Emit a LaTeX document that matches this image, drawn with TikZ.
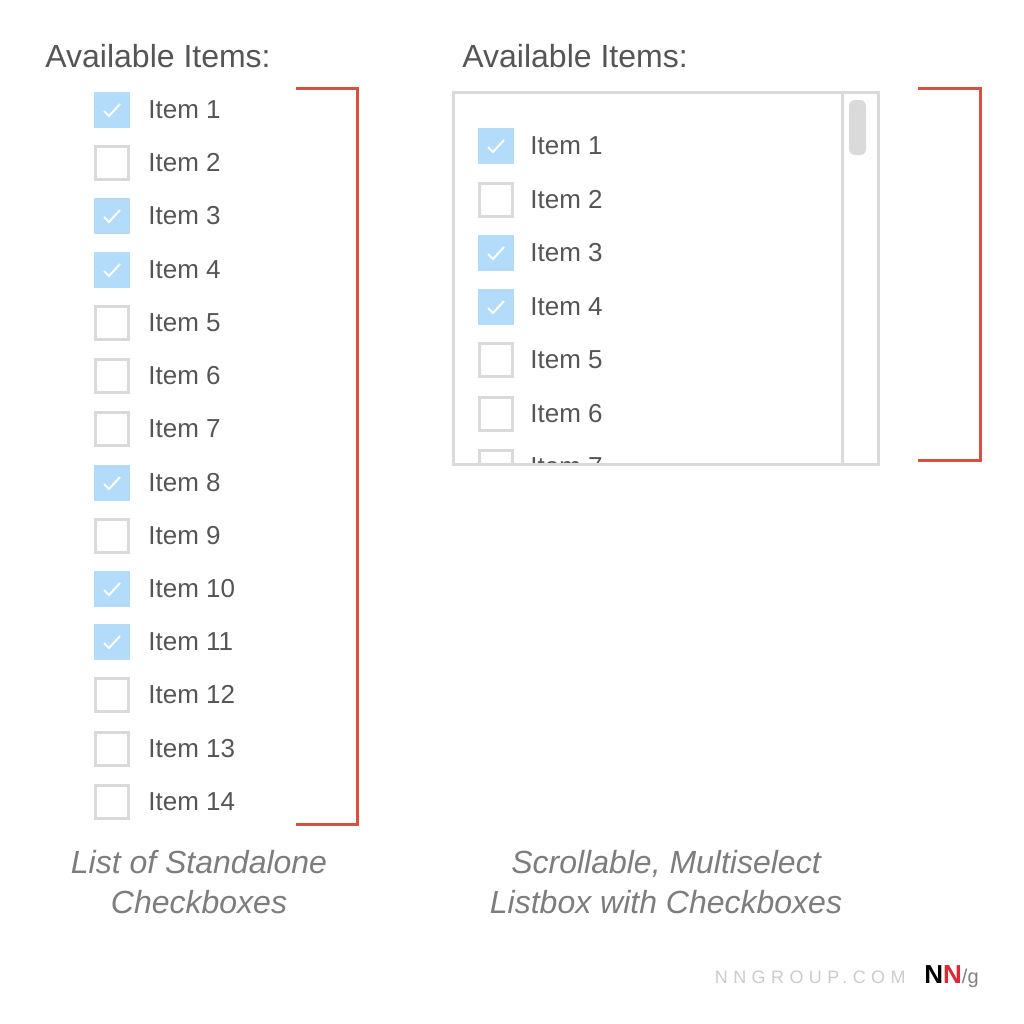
\documentclass[tikz,border=0pt]{standalone}
\usepackage{fontspec}
\setmainfont{Liberation Sans}
\newfontfamily\spacedfont[LetterSpace=30]{Liberation Sans}
\definecolor{boxblue}{RGB}{179,219,250}
\definecolor{boxgray}{RGB}{218,218,218}
\definecolor{brackred}{RGB}{217,80,62}
\definecolor{textgray}{RGB}{85,85,85}
\definecolor{capgray}{RGB}{125,125,125}
\definecolor{logored}{RGB}{220,40,50}
\tikzset{
  cbox/.style={draw=boxgray, line width=1.5pt, minimum size=16.5pt, inner sep=0pt},
  checked/.style={cbox, draw=boxblue, fill=boxblue,
    path picture={\draw [white, line width=1pt, shift={(path picture bounding box.center)}] (-8,1) -- (-3,6) -- (8,-6);}},
  itemtext/.style={anchor=west, inner sep=0pt, text=textgray, font=\fontsize{13}{15}\selectfont},
  header/.style={anchor=base west, inner sep=0pt, text=textgray, font=\fontsize{16}{19}\selectfont},
  captext/.style={align=center, inner sep=0pt, text=capgray, font=\fontsize{16}{20}\selectfont\itshape},
  bracket/.style={draw=brackred, line width=1.5pt},
}
\begin{document}
\begin{tikzpicture}[x=0.5pt, y=-0.5pt]
\fill [white] (0, 0) rectangle (1024, 1024);

% standalone checkboxes
\node [header] (lhead) at (45, 67) {Available Items:};

\node [checked] (l1) at (112, 110) {}; \node [itemtext] (lt1) at (148, 110) {Item 1};
\node [cbox] (l2) at (112, 163) {}; \node [itemtext] (lt2) at (148, 163) {Item 2};
\node [checked] (l3) at (112, 216) {}; \node [itemtext] (lt3) at (148, 216) {Item 3};
\node [checked] (l4) at (112, 270) {}; \node [itemtext] (lt4) at (148, 270) {Item 4};
\node [cbox] (l5) at (112, 323) {}; \node [itemtext] (lt5) at (148, 323) {Item 5};
\node [cbox] (l6) at (112, 376) {}; \node [itemtext] (lt6) at (148, 376) {Item 6};
\node [cbox] (l7) at (112, 429) {}; \node [itemtext] (lt7) at (148, 429) {Item 7};
\node [checked] (l8) at (112, 483) {}; \node [itemtext] (lt8) at (148, 483) {Item 8};
\node [cbox] (l9) at (112, 536) {}; \node [itemtext] (lt9) at (148, 536) {Item 9};
\node [checked] (l10) at (112, 589) {}; \node [itemtext] (lt10) at (148, 589) {Item 10};
\node [checked] (l11) at (112, 642) {}; \node [itemtext] (lt11) at (148, 642) {Item 11};
\node [cbox] (l12) at (112, 695) {}; \node [itemtext] (lt12) at (148, 695) {Item 12};
\node [cbox] (l13) at (112, 749) {}; \node [itemtext] (lt13) at (148, 749) {Item 13};
\node [cbox] (l14) at (112, 802) {}; \node [itemtext] (lt14) at (148, 802) {Item 14};

\draw [bracket] (296, 88) -- (357, 88) -- (357, 824) -- (296, 824);

\node [captext] (lcap) at (199, 882) {List of Standalone\\Checkboxes};

% listbox
\node [header] (rhead) at (462, 67) {Available Items:};

\begin{scope}
\clip (455, 94) rectangle (840, 463);
\node [checked] (r1) at (496, 146) {}; \node [itemtext] (rt1) at (530, 146) {Item 1};
\node [cbox] (r2) at (496, 200) {}; \node [itemtext] (rt2) at (530, 200) {Item 2};
\node [checked] (r3) at (496, 253) {}; \node [itemtext] (rt3) at (530, 253) {Item 3};
\node [checked] (r4) at (496, 307) {}; \node [itemtext] (rt4) at (530, 307) {Item 4};
\node [cbox] (r5) at (496, 360) {}; \node [itemtext] (rt5) at (530, 360) {Item 5};
\node [cbox] (r6) at (496, 414) {}; \node [itemtext] (rt6) at (530, 414) {Item 6};
\node [cbox] (r7) at (496, 467) {}; \node [itemtext] (rt7) at (530, 467) {Item 7};
\end{scope}

\draw [boxgray] [line width=1.5pt] (453, 92) rectangle (878, 464);
\draw [boxgray] [line width=1.5pt] (842, 92) -- (842, 464);
\fill [boxgray] [rounded corners=3pt] (849, 100) rectangle (866, 155);

\draw [bracket] (918, 88) -- (980, 88) -- (980, 460) -- (918, 460);

\node [captext] (rcap) at (666, 882) {Scrollable, Multiselect\\Listbox with Checkboxes};

% footer
\node [anchor=east, inner sep=0pt, text=gray!40] (site) at (906, 977) {\spacedfont\fontsize{9}{9}\selectfont NNGROUP.COM};
\node [anchor=west, inner sep=0pt] (logo) at (924, 977) {\fontsize{13}{13}\selectfont\bfseries N\textcolor{logored}{N}\textcolor{gray}{\fontsize{10}{10}\selectfont\mdseries/g}};
\end{tikzpicture}
\end{document}
